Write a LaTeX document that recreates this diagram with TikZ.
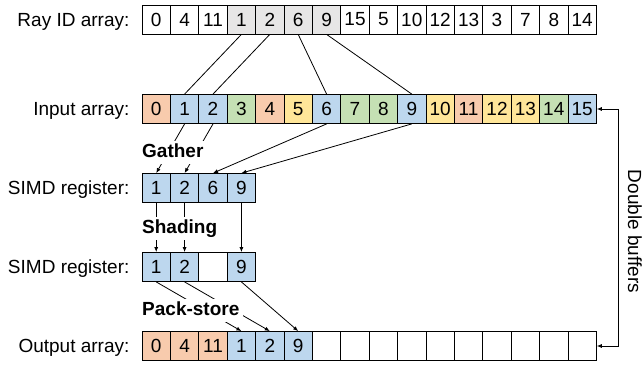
\documentclass[tikz,border=0pt]{standalone}
\usepackage{fontspec}
\setmainfont{Liberation Sans}
\usetikzlibrary{arrows.meta}
\usetikzlibrary{positioning}
\usetikzlibrary{calc}

\definecolor{cOr}{HTML}{F8CBAD}
\definecolor{cBl}{HTML}{BDD7EE}
\definecolor{cGr}{HTML}{C5E0B4}
\definecolor{cYe}{HTML}{FFE699}
\definecolor{cGy}{HTML}{E7E6E6}

\tikzset{
  cell/.style={shape=rectangle,draw,line width=.8pt,minimum width=28.4pt,minimum height=29pt,inner sep=0pt},
  lbl/.style={inner sep=0pt,text depth=0pt},
  stagelbl/.style={font=\fontsize{19}{22}\selectfont\bfseries,fill=white,inner xsep=4pt,inner ysep=2.5pt,text height=14pt,text depth=4pt,anchor=base west},
  conn/.style={line width=.8pt},
}

\begin{document}
\begin{tikzpicture}[x=1pt,y=-1pt,font=\fontsize{19}{22}\selectfont,>={Latex[length=5pt,width=4pt]}]
    \useasboundingbox (0,0) rectangle (642,365);
    % the five rows of cells
    \foreach \v/\c [count=\i from 0] in {0/white,4/white,11/white,1/cGy,2/cGy,6/cGy,9/cGy,15/white,5/white,10/white,12/white,13/white,3/white,7/white,8/white,14/white}
	\node[cell,fill=\c] (r\i) at ({142+28.4*(\i+.5)},19.5) {\v};
    \foreach \v/\c [count=\i from 0] in {0/cOr,1/cBl,2/cBl,3/cGr,4/cOr,5/cYe,6/cBl,7/cGr,8/cGr,9/cBl,10/cYe,11/cOr,12/cYe,13/cYe,14/cGr,15/cBl}
	\node[cell,fill=\c] (i\i) at ({142+28.4*(\i+.5)},109) {\v};
    \foreach \v [count=\i from 0] in {1,2,6,9}
	\node[cell,fill=cBl] (s\i) at ({142+28.4*(\i+.5)},188) {\v};
    \foreach \v/\c [count=\i from 0] in {1/cBl,2/cBl,/white,9/cBl}
	\node[cell,fill=\c] (t\i) at ({142+28.4*(\i+.5)},267) {\v};
    \foreach \v/\c [count=\i from 0] in {0/cOr,4/cOr,11/cOr,1/cBl,2/cBl,9/cBl,/white,/white,/white,/white,/white,/white,/white,/white,/white,/white}
	\node[cell,fill=\c] (o\i) at ({142+28.4*(\i+.5)},346) {\v};
    % row names
    \node[lbl,left=12pt of r0] (lray) {Ray ID array:};
    \node[lbl,left=12pt of i0] (linp) {Input array:};
    \node[lbl,left=12pt of s0] (lsa) {SIMD register:};
    \node[lbl,left=12pt of t0] (lsb) {SIMD register:};
    \node[lbl,left=12pt of o0] (lout) {Output array:};
    % connectors
    \foreach \a/\b in {3/1,4/2,5/6,6/9}
	\draw[conn] (r\a.south) -- (i\b.north);
    \foreach \a/\b in {1/0,2/1,6/2,9/3}
	\draw[conn,->] (i\a.south) -- (s\b.north);
    \foreach \a in {0,1,3}
	\draw[conn,->] (s\a.south) -- (t\a.north);
    \foreach \a/\b in {0/3,1/4,3/5}
	\draw[conn,->] (t\a.south) -- (o\b.north);
    \node[stagelbl] (gath) at (138,157) {Gather};
    \node[stagelbl] (shad) at (138,233) {Shading};
    \node[stagelbl] (pack) at (138,315) {Pack-store};
    % double buffers
    \draw[conn,<->] (i15.east) -- ++(22,0) coordinate (dbtop) |- (o15.east);
    \coordinate (dbmid) at ($(dbtop)!.5!(dbtop|-o15.east)$);
    \node[lbl,rotate=-90,anchor=south] (dbl) at ([xshift=9pt,yshift=-4pt]dbmid) {Double buffers};
\end{tikzpicture}
\end{document}
